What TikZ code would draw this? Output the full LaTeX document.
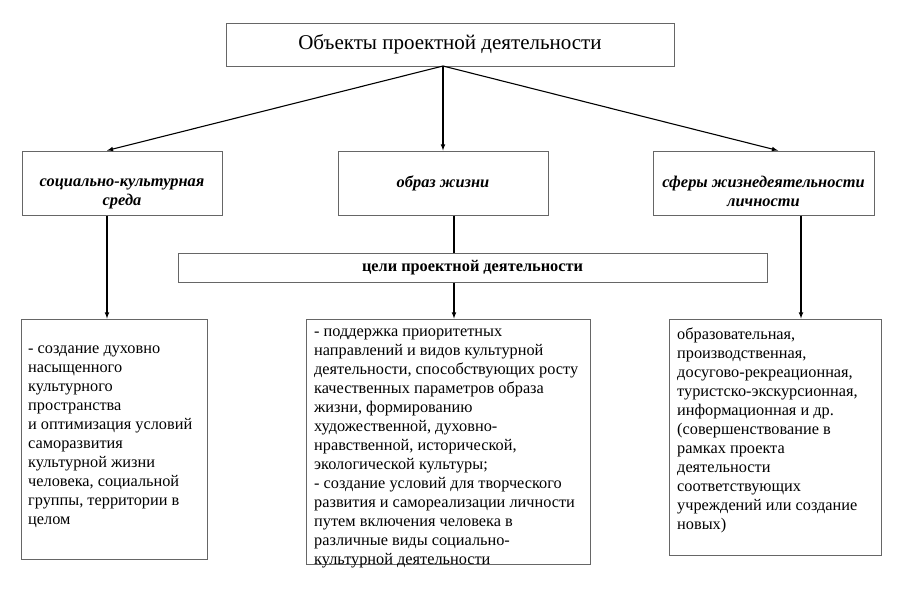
\documentclass[tikz,border=0pt]{standalone}
\usepackage{fontspec}
\setmainfont{Liberation Serif}
\usepackage{tikz}
\usetikzlibrary{positioning}
\tikzstyle{box}=[draw=black!60,line width=1pt,inner sep=2pt]
\tikzstyle{headbox}=[box,minimum height=64pt,align=center,
font=\fontsize{16.4}{19}\selectfont\bfseries\itshape]
\tikzstyle{twoline}=[text height=48pt]
\tikzstyle{bodytext}=[anchor=north west,inner sep=0pt,align=left,
font=\fontsize{16.3}{19}\selectfont]
\tikzstyle{link}=[line width=1.1pt,black,>=latex]

\begin{document}
\begin{tikzpicture}[x=1pt,y=-1pt]
        \useasboundingbox (0,0) rectangle (900,600);

        \node[box,minimum width=448pt,minimum height=43pt,
          font=\fontsize{21}{24}\selectfont] at (450,44.5) (obj) {Объекты проектной деятельности};

        \node[headbox,twoline,minimum width=200pt] at (122,183) (soc) {социально-культурная\\среда};
        \node[headbox,minimum width=210pt] at (443,183) (life) {образ жизни};
        \node[headbox,twoline,minimum width=221pt] at (763.5,183) (sph) {сферы жизнедеятельности\\личности};

        \node[box,minimum width=589pt,minimum height=29pt,
          font=\fontsize{16.3}{19}\selectfont\bfseries] at (472.5,267.5) (goal) {цели проектной деятельности};

        \node[box,minimum width=186pt,minimum height=240pt] at (114,439) (res1) {};
        \node[box,minimum width=284pt,minimum height=245pt] at (448,441.5) (res2) {};
        \node[box,minimum width=212pt,minimum height=236pt] at (775,437) (res3) {};

        \node[bodytext] at (28,346) (txt1) {- создание духовно\\насыщенного\\культурного\\пространства\\и оптимизация условий\\саморазвития\\культурной жизни\\человека, социальной\\группы, территории в\\целом};
        \node[bodytext] at (314,329) (txt2) {- поддержка приоритетных\\направлений и видов культурной\\деятельности, способствующих росту\\качественных параметров образа\\жизни, формированию\\художественной, духовно-\\нравственной, исторической,\\экологической культуры;\\- создание условий для творческого\\развития и самореализации личности\\путем включения человека в\\различные виды социально-\\культурной деятельности};
        \node[bodytext] at (677,328) (txt3) {образовательная,\\производственная,\\досугово-рекреационная,\\туристско-экскурсионная,\\информационная и др.\\(совершенствование в\\рамках проекта\\деятельности\\соответствующих\\учреждений или создание\\новых)};

        \coordinate (hub) at (443,66);
        \coordinate (lcol) at (107,0);
        \coordinate (mcol) at (454,0);
        \coordinate (rcol) at (801,0);

        \draw[link,->] (hub) -- (soc.north -| lcol);
        \draw[link,->] (hub) -- (life.north -| hub);
        \draw[link,->] (hub) -- (sph.north -| 778,0);
        \draw[link,->] (soc.south -| lcol) -- (res1.north -| lcol);
        \draw[link] (life.south -| mcol) -- (goal.north -| mcol);
        \draw[link,->] (goal.south -| mcol) -- (res2.north -| mcol);
        \draw[link,->] (sph.south -| rcol) -- (res3.north -| rcol);
      \end{tikzpicture}
\end{document}
